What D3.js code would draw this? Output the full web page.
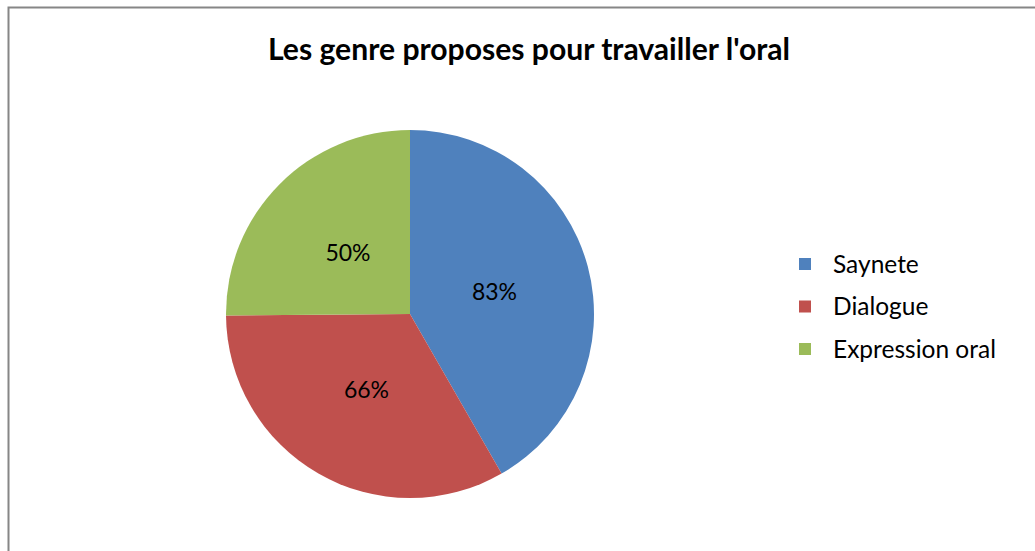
<!DOCTYPE html>
<html>
<head>
<meta charset="utf-8">
<script src="https://cdn.jsdelivr.net/npm/d3@7"></script>
<style>
  body { margin: 0; background: #fff; }
  svg { display: block; font-family: Lato, "Open Sans", sans-serif; }
</style>
</head>
<body>
<div id="chart"></div>
<script>
// data
var categories = ["Saynete", "Dialogue", "Expression oral"];
var values = [83, 66, 50];
var colors = ["#4f81bd", "#c0504d", "#9bbb59"];
var title = "Les genre proposes pour travailler l'oral";

var width = 1035, height = 551;
var cx = 410, cy = 314, radius = 184;

var svg = d3.select("#chart").append("svg")
  .attr("width", width)
  .attr("height", height);

// chart frame (only left/top visible in the crop)
svg.append("rect")
  .attr("x", 8.5).attr("y", 7.5)
  .attr("width", width + 20).attr("height", height + 20)
  .attr("fill", "none")
  .attr("stroke", "#868686")
  .attr("stroke-width", 2);

var t = svg.append("text")
  .attr("x", 529).attr("y", 60)
  .attr("text-anchor", "middle")
  .style("font-weight", "bold")
  .style("font-size", "30px")
  .text(title);
// fit to the width of the original title
t.attr("textLength", 522).attr("lengthAdjust", "spacingAndGlyphs");

var data = categories.map(function(c, i) { return { name: c, value: values[i], color: colors[i] }; });

var pie = d3.pie().sort(null).value(function(d) { return d.value; });
var arc = d3.arc().innerRadius(0).outerRadius(radius);
var labelArc = d3.arc().innerRadius(0).outerRadius(radius * 0.95);

var g = svg.append("g").attr("transform", "translate(" + cx + "," + cy + ")");
var slices = g.selectAll(".slice").data(pie(data)).enter().append("g").attr("class", "slice");

slices.append("path")
  .attr("d", arc)
  .attr("fill", function(d) { return d.data.color; });

slices.append("text")
  .attr("transform", function(d) {
    var c = labelArc.centroid(d);
    return "translate(" + c[0] + "," + c[1] + ")";
  })
  .attr("text-anchor", "middle")
  .attr("dy", "0.35em")
  .style("font-size", "23px")
  .attr("fill", "#000")
  .text(function(d) { return d.data.value + "%"; });

// legend
var legend = svg.append("g").attr("transform", "translate(799,258)");
var items = legend.selectAll(".item").data(data).enter().append("g")
  .attr("class", "item")
  .attr("transform", function(d, i) { return "translate(0," + (i * 42.5) + ")"; });

items.append("rect")
  .attr("width", 12).attr("height", 12)
  .attr("fill", function(d) { return d.color; });

items.append("text")
  .attr("x", 34).attr("y", 6)
  .attr("dy", "0.35em")
  .style("font-size", "24.5px")
  .text(function(d) { return d.name; });
</script>
</body>
</html>
